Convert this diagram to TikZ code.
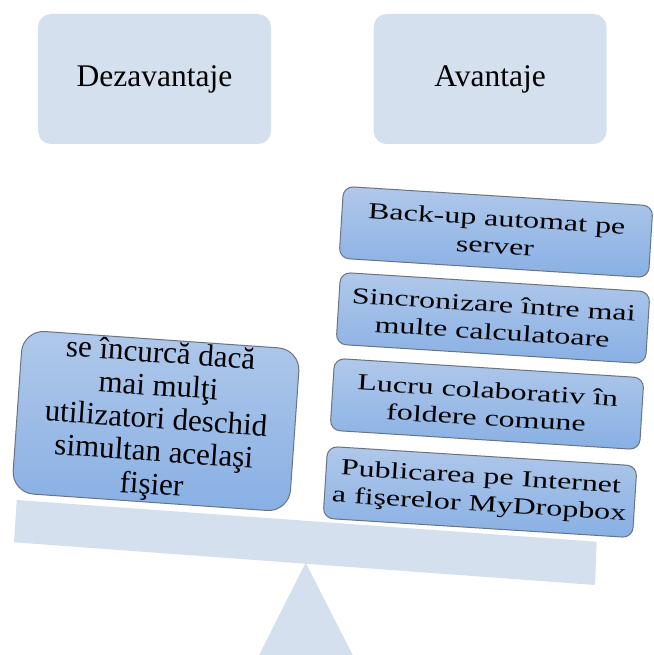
\documentclass[tikz,border=0pt]{standalone}
\usepackage{fontspec}
\setmainfont{Liberation Serif}
\newfontfamily\widefont[FakeStretch=1.39]{Liberation Serif}
\usepackage{tikz}
\usetikzlibrary{positioning}
\usetikzlibrary{shapes.misc}

\definecolor{paleblue}{RGB}{213,224,238}
\definecolor{pantop}{RGB}{176,200,234}
\definecolor{panbottom}{RGB}{136,176,228}
\definecolor{panline}{RGB}{105,115,130}

\begin{document}
\begin{tikzpicture}[
            x = 1pt, y = -1pt, % pixel grid, y going down
            node distance = 102pt, % gap between headings
            semithick
        ]

        \tikzstyle{heading}=[
            fill = paleblue,
            rounded corners = 13pt,
            minimum width = 233pt,
            minimum height = 130pt,
            font = \fontsize{31.5}{36}\selectfont
        ]

        \tikzstyle{pan}=[
            draw = panline,
            line width = 1pt,
            top color = pantop,
            bottom color = panbottom,
            align = center,
            inner sep = 0pt
        ]

        \tikzstyle{weight}=[
            pan,
            rounded corners = 10pt,
            rotate = -3.6,
            minimum width = 310pt,
            minimum height = 72pt,
            font = \widefont\fontsize{23}{27.5}\selectfont
        ]

        \useasboundingbox (0,0) rectangle (653,655);

	% HEADINGS
        \node[heading] (DZ) at (154.5,79) {Dezavantaje};
        \node[heading] (AV) [right = of DZ] {Avantaje};

	% BEAM AND PIVOT
        \fill[paleblue] (16.7,500) -- (596.7,541.7) -- (595,585) -- (14,542.3) -- cycle;
        \fill[paleblue] (305.7,562.7) -- (352.7,655) -- (259,655) -- cycle;

	% DISADVANTAGE SIDE
        \node[pan, rotate = -4, rounded corners = 22pt, minimum width = 278pt,
              minimum height = 163pt, font = \fontsize{31}{33}\selectfont]
              (INC) at (156,421)
              {se încurcă dacă\\mai mulţi\\utilizatori deschid\\simultan acelaşi\\fişier};

	% ADVANTAGE SIDE
        \node[weight] (BK) at (496,232) {Back-up automat pe\\server};
        \node[weight] (SY) at (493,318) {Sincronizare între mai\\multe calculatoare};
        \node[weight] (CO) at (487,404) {Lucru colaborativ în\\foldere comune};
        \node[weight] (PB) at (480,492) {Publicarea pe Internet\\a fişerelor MyDropbox};

  \end{tikzpicture}
\end{document}
